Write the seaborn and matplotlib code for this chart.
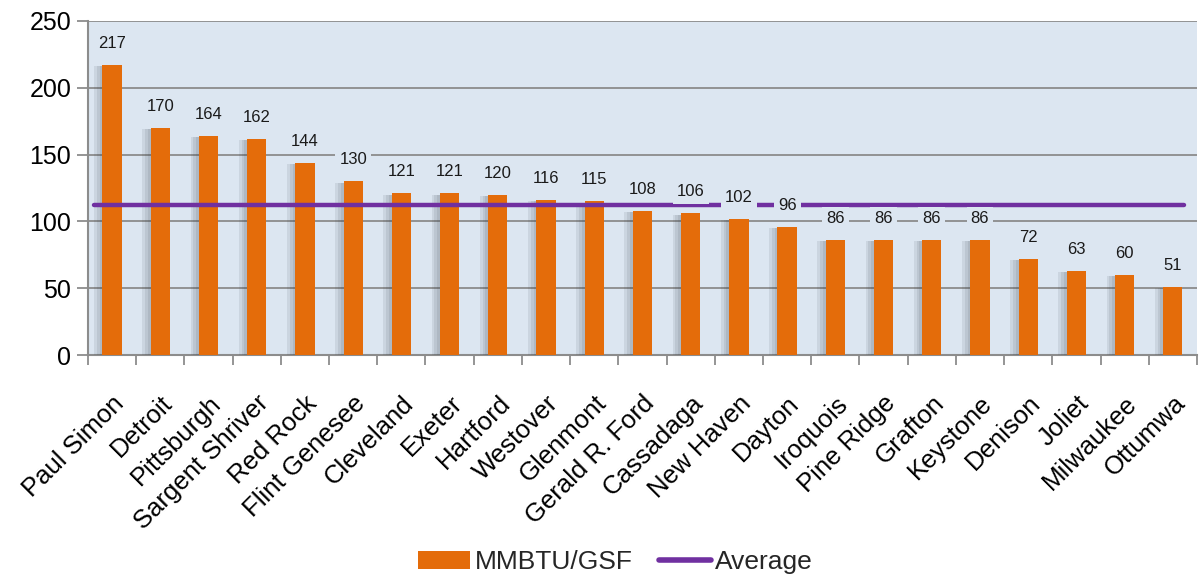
import numpy as np
import pandas as pd
import matplotlib
matplotlib.use('Agg')
import matplotlib.pyplot as plt
import matplotlib.patheffects as pe
from matplotlib.lines import Line2D
from matplotlib.patches import Patch
import seaborn as sns

SITES = ['Paul Simon', 'Detroit', 'Pittsburgh', 'Sargent Shriver', 'Red Rock',
         'Flint Genesee', 'Cleveland', 'Exeter', 'Hartford', 'Westover',
         'Glenmont', 'Gerald R. Ford', 'Cassadaga', 'New Haven', 'Dayton',
         'Iroquois', 'Pine Ridge', 'Grafton', 'Keystone', 'Denison', 'Joliet',
         'Milwaukee', 'Ottumwa']
MMBTU_GSF = [217, 170, 164, 162, 144, 130, 121, 121, 120, 116, 115, 108, 106,
             102, 96, 86, 86, 86, 86, 72, 63, 60, 51]
AVERAGE = 112

ORANGE = '#E46C0A'
PURPLE = '#7030A0'
BG = '#DCE6F1'
GRID = '#8C8C8C'


def main():
    sns.set_theme(style='white')
    plt.rcParams['font.family'] = ['Liberation Sans', 'DejaVu Sans']

    df = pd.DataFrame({'Site': SITES, 'MMBTU/GSF': MMBTU_GSF})

    fig = plt.figure(figsize=(12.02, 5.78), dpi=100)
    ax = fig.add_axes([0.0732, 0.3858, 0.9226, 0.578])
    ax.set_facecolor(BG)

    sns.barplot(data=df, x='Site', y='MMBTU/GSF', color=ORANGE, width=0.4,
                saturation=1, linewidth=0, edgecolor='none', ax=ax, zorder=3)
    # soft shadow on the left side of each bar
    shadow = [pe.SimplePatchShadow(offset=(-d, -1), shadow_rgbFace='#3a4450', alpha=0.1)
              for d in (6, 4, 2)]
    for bar in ax.patches:
        bar.set_path_effects(shadow + [pe.Normal()])

    n = len(SITES)
    ax.plot([-0.38, n - 1 + 0.24], [AVERAGE, AVERAGE], color=PURPLE, lw=3.2,
            solid_capstyle='round', zorder=4)

    for i, v in enumerate(MMBTU_GSF):
        ax.text(i, v + 16, str(v), ha='center', va='center', fontsize=12,
                color='#1a1a1a', zorder=5,
                bbox=dict(facecolor=BG, edgecolor='none', pad=3))

    ax.set_ylim(0, 250)
    ax.set_xlim(-0.5, n - 0.5)
    ax.set_yticks(np.arange(0, 251, 50))
    ax.yaxis.grid(True, color=GRID, lw=1.3, zorder=0)
    ax.set_axisbelow(True)
    ax.tick_params(axis='y', labelsize=18, length=8, width=1.3, color=GRID,
                   left=True, pad=4, labelcolor='black')
    ax.set_xticks(np.arange(n))
    ax.set_xticklabels(SITES, rotation=45, ha='right', rotation_mode='anchor',
                       fontsize=18.5, color='black')
    ax.tick_params(axis='x', which='major', length=0, pad=26)
    ax.set_xticks(np.arange(n + 1) - 0.5, minor=True)
    ax.tick_params(axis='x', which='minor', length=7, width=1.3, color=GRID,
                   bottom=True)
    ax.set_xlabel('')
    ax.set_ylabel('')
    for s in ['top', 'right']:
        ax.spines[s].set_visible(False)
    for s in ['left', 'bottom']:
        ax.spines[s].set_color(GRID)
        ax.spines[s].set_linewidth(1.5)

    handles = [Patch(facecolor=ORANGE, edgecolor='none'),
               Line2D([0], [0], color=PURPLE, lw=4, solid_capstyle='round')]
    fig.legend(handles, ['MMBTU/GSF', 'Average'], loc='center',
               bbox_to_anchor=(0.512, 0.027), ncol=2, frameon=False, fontsize=19,
               handlelength=2.0, handleheight=0.7, handletextpad=0.15,
               columnspacing=1.0)

    fig.savefig('out.png', dpi=100, facecolor='white')


if __name__ == '__main__':
    main()
